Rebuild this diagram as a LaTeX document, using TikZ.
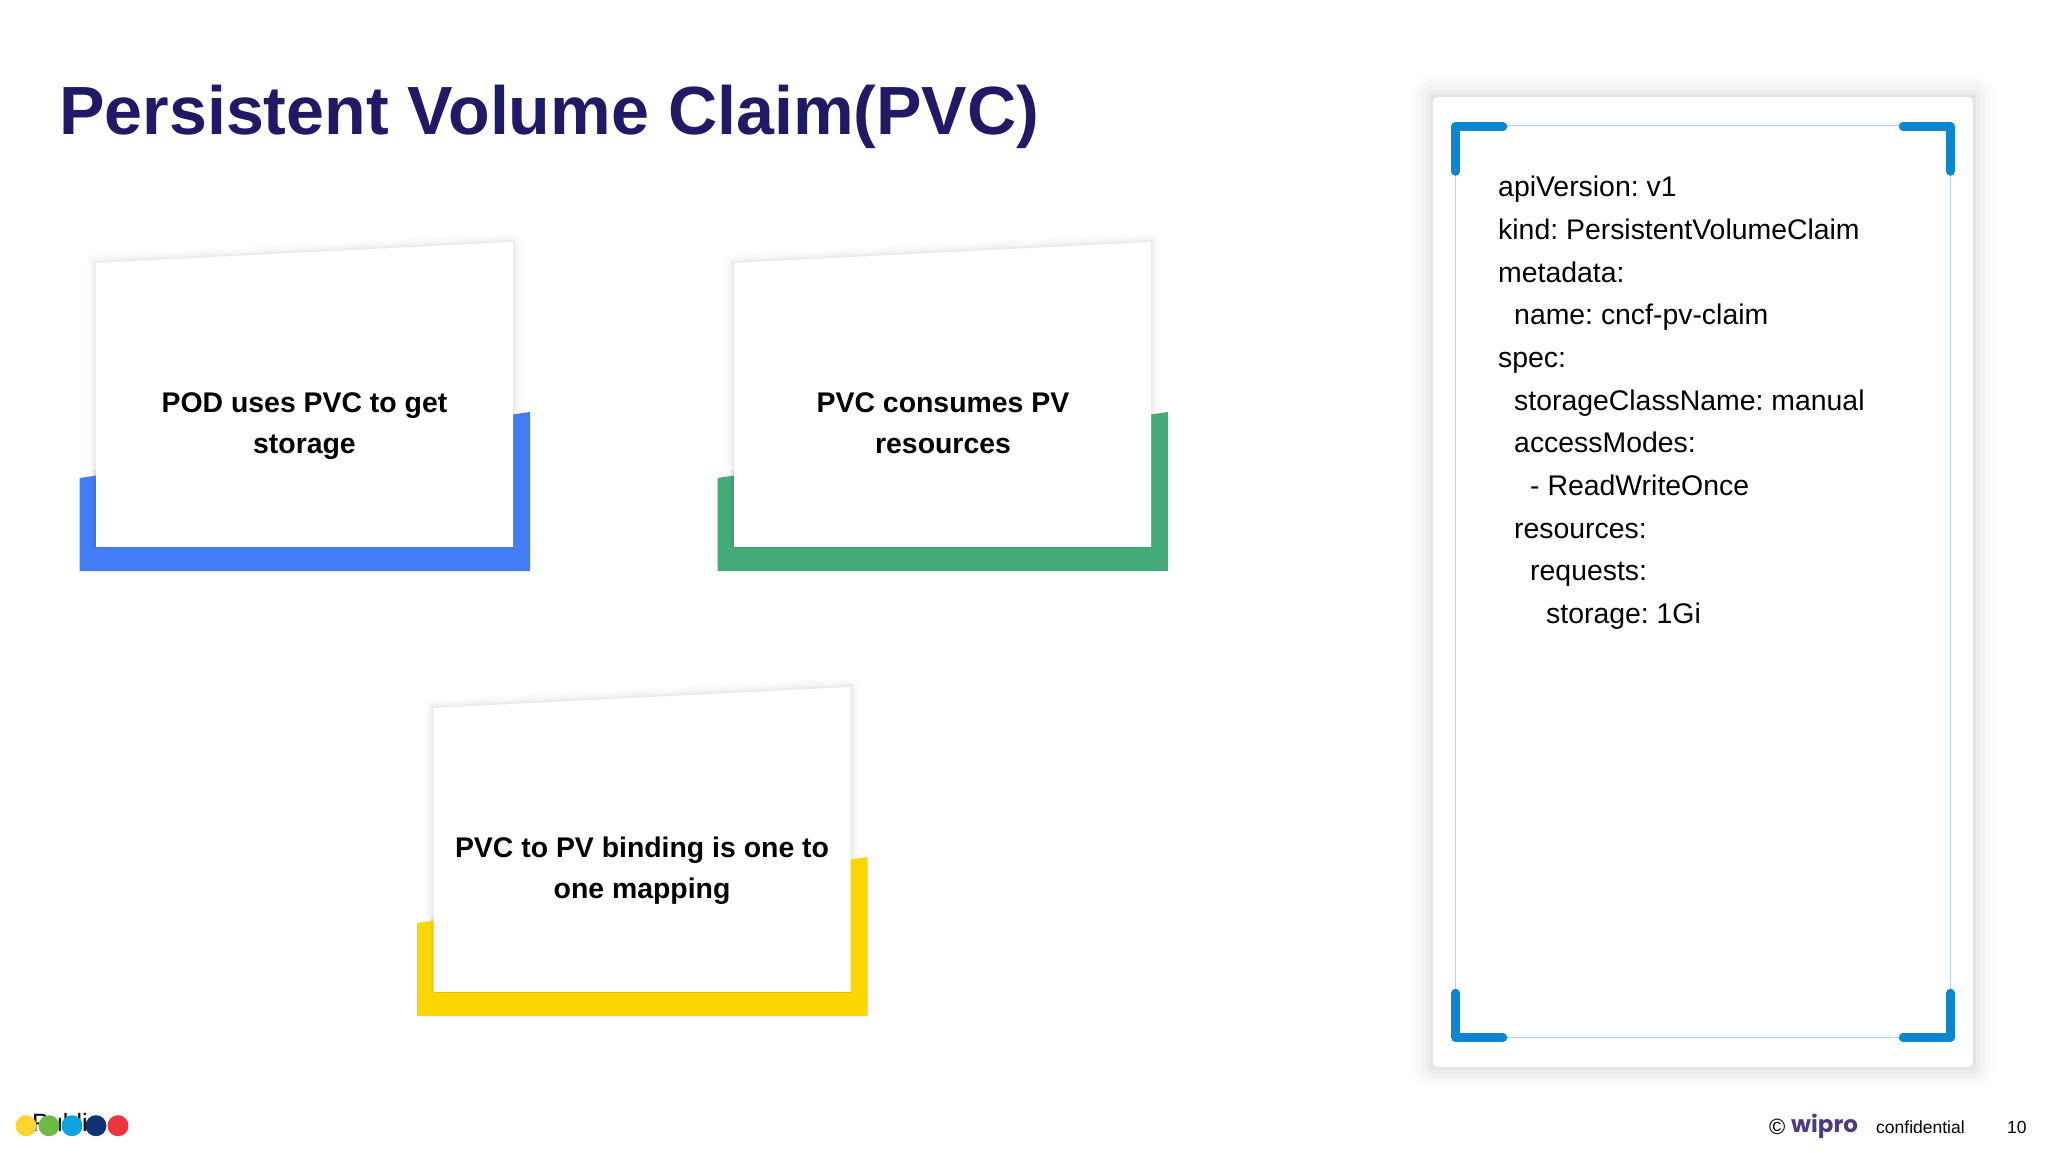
\documentclass[tikz,border=0pt]{standalone}
\usepackage{fontspec}
\setmainfont{Liberation Sans}
\newfontfamily\logofont{Poppins}
\usetikzlibrary{calc}
\definecolor{titlec}{HTML}{201A66}
\definecolor{cardblue}{HTML}{437DF5}
\definecolor{cardgreen}{HTML}{43AB78}
\definecolor{cardyellow}{HTML}{FCD600}
\definecolor{cornerblue}{HTML}{0A87D0}
\definecolor{thinblue}{HTML}{B5D3F2}
\definecolor{logoc}{HTML}{4A3B82}
\definecolor{dotyellow}{HTML}{FFD42E}
\definecolor{dotgreen}{HTML}{6CBB45}
\definecolor{dotblue}{HTML}{0CA3E0}
\definecolor{dotnavy}{HTML}{0E3272}
\definecolor{dotred}{HTML}{EF3340}
\tikzset{
  x=1pt,y=-1pt,
  cardtext/.style={align=center,font=\frenchspacing\fontsize{28.4}{41}\selectfont\bfseries,text=black,inner sep=0pt},
  codeline/.style={anchor=base west,font=\frenchspacing\fontsize{28.4}{34}\selectfont,text=black,inner sep=0pt},
  corner/.style={cornerblue,line width=8.5pt,line cap=round,line join=round},
  foot/.style={font=\fontsize{17.5}{20}\selectfont,text=black,inner sep=0pt,anchor=base west},
  dot/.style={circle,minimum size=21pt,inner sep=0pt}
}
\newcommand{\card}[3]{% dx, dy, colour
  \begin{scope}[shift={(#1,#2)}]
    \foreach \w/\o in {18/0.010,13/0.014,8/0.02,4/0.03}{
      \draw[black,opacity=\o,line width=\w pt,line join=round] (96,480) -- (96,263) -- (513,242) -- (513,420);
    }
    \fill[#3] (79.5,478) -- (530,412) -- (530,571) -- (79.5,571) -- cycle;
    \fill[black,opacity=.06] (96,470) rectangle (93,547);
    \fill[white] (96,263) -- (513,242) -- (513,547) -- (96,547) -- cycle;
    \draw[#3!80!black,opacity=.5,line width=1pt] (96,547.5) -- (513,547.5);
  \end{scope}
}
\begin{document}
\begin{tikzpicture}
\useasboundingbox (0,0) rectangle (2048,1152);
\fill[white] (0,0) rectangle (2048,1152);
\node[anchor=base west,inner sep=0pt,text=titlec,font=\fontsize{68.2}{72}\selectfont\bfseries] (title) at (59,134.5) {Persistent Volume Claim(PVC)};
\card{0}{0}{cardblue}
\card{638}{0}{cardgreen}
\card{337.5}{445}{cardyellow}
\node[cardtext] (t1) at (304.5,426) {POD uses PVC to get\\storage};
\node[cardtext] (t2) at (943,423.5) {PVC consumes PV\\resources};
\node[cardtext] (t3) at (642,871) {PVC to PV binding is one to\\one mapping};
% panel
\foreach \w/\o in {44/0.010,34/0.014,24/0.018,14/0.026,6/0.034}{
  \draw[black,opacity=\o,line width=\w pt,line join=round] (1433,97) rectangle (1973,1067);
}
\fill[white,rounded corners=5pt] (1433,97) rectangle (1973,1067);
\draw[thinblue,line width=1pt] (1455,125.5) rectangle (1950.5,1037);
\draw[corner] (1455.5,171.5) -- (1455.5,126.5) -- (1503,126.5);
\draw[corner] (1903,126.5) -- (1950.5,126.5) -- (1950.5,171.5);
\draw[corner] (1455.5,993) -- (1455.5,1037.5) -- (1503,1037.5);
\draw[corner] (1903,1037.5) -- (1950.5,1037.5) -- (1950.5,993);
\node[codeline] (c1) at (1498,196) {apiVersion: v1};
\node[codeline] (c2) at (1498,239.2) {kind: PersistentVolumeClaim};
\node[codeline] (c3) at (1498,282.1) {metadata:};
\node[codeline] (c4) at (1514,324.9) {name: cncf-pv-claim};
\node[codeline] (c5) at (1498,367.6) {spec:};
\node[codeline] (c6) at (1514,410.3) {storageClassName: manual};
\node[codeline] (c7) at (1514,452.9) {accessModes:};
\node[codeline] (c8) at (1530,495.6) {- ReadWriteOnce};
\node[codeline] (c9) at (1514,538.2) {resources:};
\node[codeline] (c10) at (1530,580.9) {requests:};
\node[codeline] (c11) at (1546,623.2) {storage: 1Gi};
% footer
\node[anchor=base west,inner sep=0pt,font=\fontsize{25}{28}\selectfont] (pub) at (32,1131) {Public};
\node[dot,fill=dotyellow] (d1) at (26,1125.7) {};
\node[dot,fill=dotgreen] (d2) at (49,1125.7) {};
\node[dot,fill=dotblue] (d3) at (72,1125.7) {};
\node[dot,fill=dotnavy] (d4) at (96,1125.7) {};
\node[dot,fill=dotred] (d5) at (118,1125.7) {};
\node[foot,font=\fontsize{22}{24}\selectfont] (cp) at (1769,1134) {©};
\node[anchor=base west,inner sep=0pt,text=logoc,font=\fontsize{23}{26}\logofont\bfseries] (logo) at (1791,1132) {wipro};
\node[foot] (conf) at (1876,1133) {confidential};
\node[foot] (pg) at (2007,1133) {10};
\end{tikzpicture}
\end{document}
